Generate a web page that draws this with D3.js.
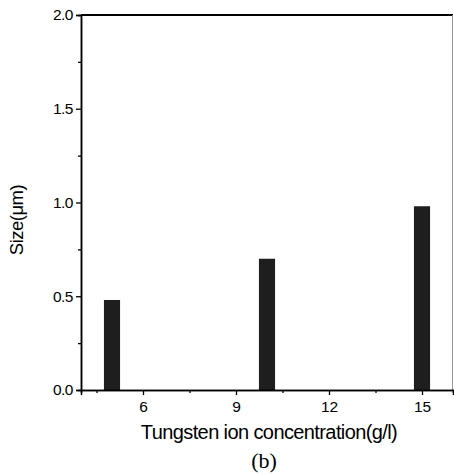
<!DOCTYPE html>
<html><head><meta charset="utf-8">
<script src="https://cdn.jsdelivr.net/npm/d3@7/dist/d3.min.js"></script>
<style>body{margin:0;background:#fff}svg{display:block}</style>
</head><body>
<script>
const concentrations = [5, 10, 15];
const sizes = [0.48, 0.70, 0.98];
const xTicks = [6, 9, 12, 15];
const yTicks = [0.0, 0.5, 1.0, 1.5, 2.0];
const xLabel = "Tungsten ion concentration(g/l)";
const yLabel = "Size(μm)";
const caption = "(b)";

const W = 454, H = 475;
const m = {left: 81, top: 15, right: 1, bottom: 85};
const svg = d3.select("body").append("svg").attr("width", W).attr("height", H);
const x = d3.scaleLinear().domain([4, 16]).range([m.left, W - m.right]);
const y = d3.scaleLinear().domain([0, 2]).range([H - m.bottom, m.top]);
const barW = x(4.52) - x(4);

// bars
svg.selectAll("rect.bar").data(concentrations).join("rect")
  .attr("class", "bar")
  .attr("x", (d) => x(d) - barW / 2)
  .attr("width", barW)
  .attr("y", (d, i) => y(sizes[i]))
  .attr("height", (d, i) => y(0) - y(sizes[i]))
  .attr("fill", "#1e1e1e");

// frame
svg.append("line").attr("x1", x(4)).attr("x2", x(16)).attr("y1", y(2)).attr("y2", y(2))
  .attr("stroke", "#000").attr("stroke-width", 2);
svg.append("line").attr("x1", x(16) - 0.5).attr("x2", x(16) - 0.5).attr("y1", y(2)).attr("y2", y(0))
  .attr("stroke", "#999").attr("stroke-width", 1);

const sans = "Liberation Sans, Arial, sans-serif";

// x axis
const gx = svg.append("g").attr("transform", `translate(0,${y(0)})`)
  .call(d3.axisBottom(x).tickValues(xTicks).tickFormat(d3.format("d")).tickSize(5).tickPadding(6));
gx.append("g").call(d3.axisBottom(x).tickValues([4.5, 7.5, 10.5, 13.5]).tickSize(3).tickFormat(""));
gx.selectAll(".domain").attr("stroke", "#000").attr("stroke-width", 1.5);
gx.selectAll("line").attr("stroke", "#000").attr("stroke-width", 1.3);
gx.selectAll("text").attr("font-family", sans).attr("font-size", 15.5).attr("fill", "#000");

// y axis
const gy = svg.append("g").attr("transform", `translate(${x(4)},0)`)
  .call(d3.axisLeft(y).tickValues(yTicks).tickFormat(d3.format(".1f")).tickSize(5).tickPadding(3));
gy.append("g").call(d3.axisLeft(y).tickValues([0.25, 0.75, 1.25, 1.75]).tickSize(3).tickFormat(""));
gy.selectAll(".domain").attr("stroke", "#000").attr("stroke-width", 1.5);
gy.selectAll("line").attr("stroke", "#000").attr("stroke-width", 1.3);
gy.selectAll("text").attr("font-family", sans).attr("font-size", 15.5).attr("fill", "#000").attr("letter-spacing", -0.5);

// labels
svg.append("text").attr("x", 269).attr("y", 439).attr("text-anchor", "middle")
  .attr("font-family", sans).attr("font-size", 20)
  .attr("letter-spacing", -0.6).text(xLabel);
svg.append("text").attr("transform", "translate(23,220) rotate(-90)").attr("text-anchor", "middle")
  .attr("font-family", sans).attr("font-size", 18.5)
  .attr("letter-spacing", -0.5).text(yLabel);
svg.append("text").attr("x", 264).attr("y", 468).attr("text-anchor", "middle")
  .attr("font-family", "Liberation Serif, Times New Roman, serif").attr("font-size", 22)
  .text(caption);
</script>
</body></html>
